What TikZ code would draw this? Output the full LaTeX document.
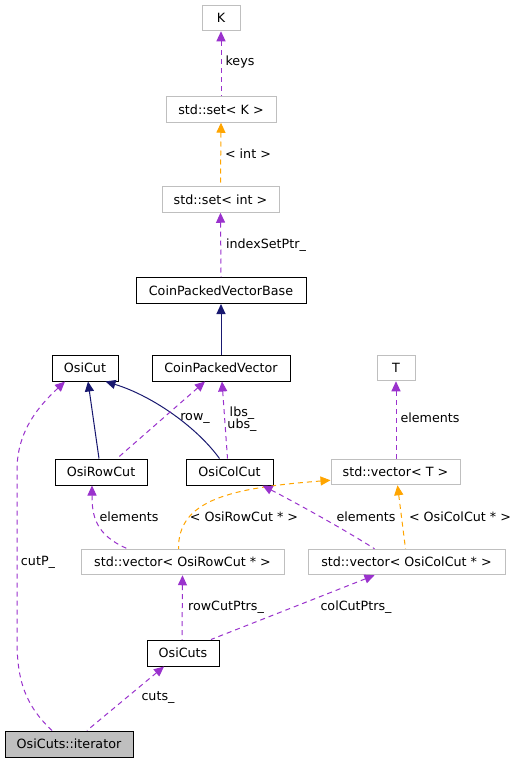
\documentclass[tikz,border=0pt]{standalone}
\usepackage{fontspec}
\setmainfont{DejaVu Sans}
\usetikzlibrary{arrows.meta}
\definecolor{purp}{HTML}{9A32CD}
\definecolor{orng}{HTML}{FFA500}
\definecolor{navy}{HTML}{191970}
\definecolor{grayb}{HTML}{BFBFBF}
\tikzset{
  x=1pt,y=-1pt,
  every node/.style={font=\fontsize{12.7}{14}\selectfont, inner sep=0pt},
  cls/.style={draw=black, line width=1pt, fill=white, minimum height=26pt},
  ext/.style={draw=grayb, line width=1pt, fill=white, minimum height=25.5pt},
  cur/.style={draw=black, line width=1pt, fill=grayb, minimum height=26pt},
  tipA/.style={{Triangle[length=10pt,width=9pt]}-},
  usage/.style={tipA, draw=purp, line width=1pt, dash pattern=on 5pt off 4pt},
  tmpl/.style={tipA, draw=orng, line width=1pt, dash pattern=on 5pt off 4pt},
  inh/.style={tipA, draw=navy, line width=1pt},
  lbl/.style={fill=none, draw=none}
}
\begin{document}
\begin{tikzpicture}
\useasboundingbox (0,0) rectangle (519,763);
\fill[white] (0,0) rectangle (519,763);
% nodes
\node[ext, minimum width=38pt]  (K)      at (221,18)    {K};
\node[ext, minimum width=110pt] (setK)   at (221,109.5) {std::set< K >};
\node[ext, minimum width=117pt] (setInt) at (220.5,199.5) {std::set< int >};
\node[cls, minimum width=170pt] (CPVB)   at (221,290.5) {CoinPackedVectorBase};
\node[cls, minimum width=66pt]  (OsiCut) at (85,368)    {OsiCut};
\node[cls, minimum width=138pt] (CPV)    at (221,368)   {CoinPackedVector};
\node[ext, minimum width=38pt]  (T)      at (396,368)   {T};
\node[cls, minimum width=92pt]  (Row)    at (101,472)   {OsiRowCut};
\node[cls, minimum width=87pt]  (Col)    at (229.5,472) {OsiColCut};
\node[ext, minimum width=129pt] (vecT)   at (395.5,472) {std::vector< T >};
\node[ext, minimum width=203pt] (vecRow) at (182.5,562) {std::vector< OsiRowCut * >};
\node[ext, minimum width=197pt] (vecCol) at (406.5,562) {std::vector< OsiColCut * >};
\node[cls, minimum width=72pt]  (Cuts)   at (183,653)   {OsiCuts};
\node[cur, minimum width=128pt] (Iter)   at (69,744)    {OsiCuts::iterator};
% edges
\draw[usage] (K.south) -- (setK.north);
\draw[tmpl] (setK.south) -- (setInt.north);
\draw[usage] (setInt.south) -- (CPVB.north);
\draw[inh] (CPVB.south) -- (CPV.north);
\draw[inh] ([xshift=3pt]OsiCut.south) -- ([xshift=-2pt]Row.north);
\draw[inh] ([xshift=-13pt]OsiCut.south east) .. controls (150,395) and (195,425) .. ([xshift=-10pt]Col.north);
\draw[usage] ([xshift=-16pt]CPV.south) -- ([xshift=16pt]Row.north);
\draw[usage] ([xshift=1pt]CPV.south) -- ([xshift=-2pt]Col.north);
\draw[usage] (T.south) -- (T.south |- vecT.north);
\draw[usage] ([xshift=-9pt]Row.south) .. controls (92,515) and (95,535) .. ([xshift=-55pt]vecRow.north);
\draw[tmpl] ([yshift=5pt]vecT.south west) .. controls (230,488) and (178,500) .. ([xshift=-4pt]vecRow.north);
\draw[usage] ([xshift=33pt]Col.south) .. controls (300,505) and (345,530) .. ([xshift=-32pt]vecCol.north);
\draw[tmpl] ([xshift=2pt]vecT.south) -- ([xshift=-1pt]vecCol.north);
\draw[usage] (vecRow.south) -- ([xshift=-1pt]Cuts.north);
\draw[usage] ([xshift=-32pt]vecCol.south) -- ([xshift=28pt]Cuts.north);
\draw[usage] ([xshift=-19pt]Cuts.south) -- ([xshift=18pt]Iter.north);
\draw[usage] ([xshift=-20pt]OsiCut.south) .. controls (40,405) and (17,430) .. (17,470) -- (17,640) .. controls (17,680) and (25,705) .. ([xshift=-17pt]Iter.north);
% labels
\node[lbl] (l1) at (240,62) {keys};
\node[lbl] (l2) at (248,154) {< int >};
\node[lbl] (l3) at (266,245) {indexSetPtr\_};
\node[lbl] (l4) at (195,418) {row\_};
\node[lbl, align=center] (l5) at (242,419) {lbs\_\\[-1.5pt]ubs\_};
\node[lbl] (l6) at (430,418) {elements};
\node[lbl] (l7) at (129,517) {elements};
\node[lbl] (l8) at (244,517) {< OsiRowCut * >};
\node[lbl] (l9) at (366,517) {elements};
\node[lbl] (l10) at (460,517) {< OsiColCut * >};
\node[lbl] (l11) at (38,562) {cutP\_};
\node[lbl] (l12) at (226,607) {rowCutPtrs\_};
\node[lbl] (l13) at (356,607) {colCutPtrs\_};
\node[lbl] (l14) at (158,698) {cuts\_};
\end{tikzpicture}
\end{document}
